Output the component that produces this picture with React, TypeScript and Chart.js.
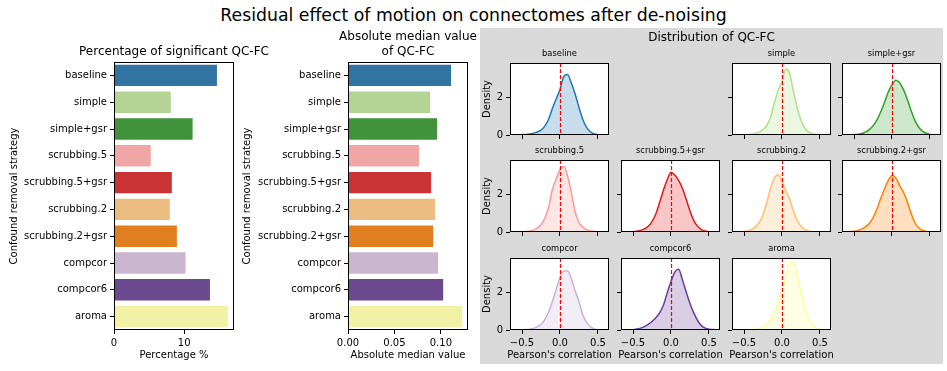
import React, { useEffect, useRef } from "react";
import { Chart, registerables } from "chart.js";

Chart.register(...registerables);
const FONT = "'DejaVu Sans', sans-serif";
Chart.defaults.font.family = FONT;
Chart.defaults.color = "#000";

// ---------------- data ----------------
const strategies = [
  "baseline",
  "simple",
  "simple+gsr",
  "scrubbing.5",
  "scrubbing.5+gsr",
  "scrubbing.2",
  "scrubbing.2+gsr",
  "compcor",
  "compcor6",
  "aroma",
];
const pctSignificant = [14.67, 8.1, 11.2, 5.24, 8.24, 7.95, 8.96, 10.2, 13.67, 16.24];
const absMedian = [0.111, 0.0884, 0.096, 0.0765, 0.0895, 0.0938, 0.0917, 0.097, 0.1025, 0.123];

const pctTicks = [0, 10];
const pctTickLabels = ["0", "10"];
const medianTicks = [0, 0.05, 0.1];
const medianTickLabels = ["0.00", "0.05", "0.10"];
const densityXTicks = [-0.5, 0, 0.5];
const densityXTickLabels = ["\u22120.5", "0.0", "0.5"];
const densityYTicks = [0, 2];
const densityYTickLabels = ["0", "2"];

const kdeX = [
  -0.6, -0.55, -0.5, -0.45, -0.4, -0.35, -0.3, -0.25, -0.2, -0.15, -0.1, -0.05, 0,
  0.05, 0.1, 0.15, 0.2, 0.25, 0.3, 0.35, 0.4, 0.45, 0.5, 0.55, 0.6,
];
const kdeBaseline = [null, null, 0.01, 0.02, 0.05, 0.1, 0.16, 0.26, 0.47, 0.83, 1.4, 1.9, 2.4, 3.08, 3.18, 2.72, 2.15, 1.45, 0.82, 0.4, 0.17, 0.06, 0.02, 0.01, null];
const kdeSimple = [null, null, 0.01, 0.02, 0.04, 0.08, 0.15, 0.28, 0.5, 0.95, 1.7, 2.35, 2.8, 3.48, 3.25, 2.3, 1.45, 0.78, 0.37, 0.16, 0.07, 0.03, 0.01, null, null];
const kdeSimpleGsr = [null, null, 0.02, 0.04, 0.08, 0.15, 0.28, 0.48, 0.78, 1.2, 1.7, 2.25, 2.65, 2.88, 2.75, 2.4, 1.9, 1.3, 0.78, 0.42, 0.2, 0.09, 0.04, null, null];
const kdeScrub5 = [null, null, 0.01, 0.02, 0.05, 0.1, 0.2, 0.38, 0.72, 1.3, 2.25, 2.8, 3.3, 3.45, 2.95, 2.05, 1.05, 0.5, 0.25, 0.12, 0.06, 0.03, 0.01, null, null];
const kdeScrub5Gsr = [null, null, 0.02, 0.04, 0.08, 0.16, 0.3, 0.55, 0.95, 1.55, 2.2, 2.75, 3.15, 3.0, 2.72, 2.3, 1.72, 1.1, 0.6, 0.3, 0.13, 0.05, 0.02, null, null];
const kdeScrub2 = [null, 0.01, 0.03, 0.06, 0.13, 0.27, 0.5, 0.9, 1.55, 2.3, 2.85, 3.03, 2.65, 2.15, 1.75, 1.1, 0.62, 0.3, 0.14, 0.06, 0.02, 0.01, null, null, null];
const kdeScrub2Gsr = [0.01, 0.02, 0.04, 0.08, 0.15, 0.27, 0.45, 0.75, 1.2, 1.75, 2.25, 2.7, 2.98, 2.85, 2.45, 2.1, 1.6, 1.0, 0.5, 0.22, 0.09, 0.03, 0.01, null, null];
const kdeCompcor = [null, null, 0.01, 0.02, 0.04, 0.08, 0.16, 0.3, 0.55, 0.95, 1.5, 2.15, 2.75, 3.1, 3.1, 2.7, 2.05, 1.5, 0.8, 0.4, 0.17, 0.06, 0.02, null, null];
const kdeCompcor6 = [null, null, 0.02, 0.05, 0.1, 0.18, 0.3, 0.45, 0.65, 0.9, 1.3, 1.95, 2.55, 3.05, 3.2, 2.65, 2.0, 1.4, 0.9, 0.5, 0.23, 0.1, 0.04, 0.02, 0.01];
const kdeAroma = [null, null, null, null, 0.02, 0.04, 0.08, 0.15, 0.28, 0.5, 0.9, 1.42, 2.0, 2.8, 3.6, 3.55, 2.85, 2.0, 1.2, 0.6, 0.25, 0.09, 0.03, 0.01, 0.005];

const kdeSeries = [
  kdeBaseline, kdeSimple, kdeSimpleGsr, kdeScrub5, kdeScrub5Gsr,
  kdeScrub2, kdeScrub2Gsr, kdeCompcor, kdeCompcor6, kdeAroma,
];

// ---------------- styles ----------------
const barColors = ["#3274a1", "#b3d495", "#40923b", "#efa6a5", "#ca3334", "#ebbd81", "#df7f20", "#c9b7d2", "#6a498e", "#f2f2a6"];
const lineColors = ["#1f78b4", "#b2df8a", "#33a02c", "#fb9a99", "#e31a1c", "#fdbf6f", "#ff7f00", "#cab2d6", "#6a3d9a", "#ffff99"];

function withAlpha(hex: string, a: number) {
  const r = parseInt(hex.slice(1, 3), 16);
  const g = parseInt(hex.slice(3, 5), 16);
  const b = parseInt(hex.slice(5, 7), 16);
  return `rgba(${r},${g},${b},${a})`;
}

// layout (page pixels)
const PAD = 4;
const BAR_AXES = [
  { x: 114, y: 62, w: 120, h: 268 },
  { x: 348, y: 62, w: 120, h: 268 },
];
const BAR_YW = 110;
const BAR_XH = 30;
const COL_X = [510, 621, 732, 842];
const COL_W = 99;
const ROW_Y = [63, 160, 258];
const ROW_H = 72;
const GRID_POS = [
  [0, 0], [0, 2], [0, 3],
  [1, 0], [1, 1], [1, 2], [1, 3],
  [2, 0], [2, 1], [2, 2],
];
const X_RANGE = [-0.658, 0.645];
const Y_MAX = 3.79;

const framePlugin = {
  id: "frame",
  beforeDraw(chart: any) {
    const { ctx, chartArea: a } = chart;
    ctx.save();
    ctx.fillStyle = "#fff";
    ctx.fillRect(a.left, a.top, a.right - a.left, a.bottom - a.top);
    ctx.restore();
  },
  afterDatasetsDraw(chart: any, _args: any, opts: any) {
    if (!opts || !opts.zeroLine) return;
    const { ctx, chartArea: a } = chart;
    const x = Math.round(chart.scales.x.getPixelForValue(0)) + 0.5;
    ctx.save();
    ctx.strokeStyle = "#ff0000";
    ctx.lineWidth = 1.2;
    ctx.setLineDash([4, 2]);
    ctx.beginPath();
    ctx.moveTo(x, a.top);
    ctx.lineTo(x, a.bottom);
    ctx.stroke();
    ctx.restore();
  },
  afterDraw(chart: any) {
    const { ctx, chartArea: a } = chart;
    ctx.save();
    ctx.strokeStyle = "#000";
    ctx.lineWidth = 1;
    ctx.strokeRect(a.left + 0.5, a.top + 0.5, a.right - a.left - 1, a.bottom - a.top - 1);
    ctx.restore();
  },
};

const tickGrid = {
  display: true,
  drawOnChartArea: false,
  drawTicks: true,
  tickLength: 4,
  tickWidth: 1,
  tickColor: "#000",
  color: "#000",
};

function fixWidth(w: number) {
  return (s: any) => {
    s.width = w;
    s.paddingTop = 0;
    s.paddingBottom = 0;
    s.paddingLeft = 0;
    s.paddingRight = 0;
  };
}
function fixHeight(h: number) {
  return (s: any) => {
    s.height = h;
    s.paddingTop = 0;
    s.paddingBottom = 0;
    s.paddingLeft = 0;
    s.paddingRight = 0;
  };
}

function barConfig(values: number[], xMax: number, ticks: number[], tickLabels: string[]) {
  return {
    type: "bar",
    data: {
      labels: strategies,
      datasets: [
        {
          data: values,
          backgroundColor: barColors,
          borderWidth: 0,
          categoryPercentage: 0.8,
          barPercentage: 1,
        },
      ],
    },
    options: {
      animation: false,
      responsive: false,
      devicePixelRatio: 1,
      indexAxis: "y",
      events: [],
      layout: { padding: { top: PAD, right: PAD, left: 0, bottom: 0 } },
      plugins: { legend: { display: false }, tooltip: { enabled: false }, frame: {} },
      scales: {
        x: {
          type: "linear",
          min: 0,
          max: xMax,
          afterBuildTicks: (s: any) => {
            s.ticks = ticks.map((v) => ({ value: v }));
          },
          ticks: {
            callback: (_v: any, i: number) => tickLabels[i],
            font: { size: 10 },
            color: "#000",
            padding: 3,
            maxRotation: 0,
            autoSkip: false,
          },
          grid: tickGrid,
          border: { display: false },
          afterFit: fixHeight(BAR_XH),
        },
        y: {
          type: "category",
          ticks: { font: { size: 10 }, color: "#000", padding: 3, autoSkip: false },
          grid: { ...tickGrid, offset: false },
          border: { display: false },
          afterFit: fixWidth(BAR_YW),
        },
      },
    },
    plugins: [framePlugin],
  };
}

function densityConfig(k: number, showX: boolean, showY: boolean, yW: number, xH: number) {
  const series = kdeSeries[k];
  const points = kdeX
    .map((x, i) => ({ x, y: series[i] }))
    .filter((p) => p.y !== null);
  return {
    type: "line",
    data: {
      datasets: [
        {
          data: points,
          borderColor: lineColors[k],
          backgroundColor: withAlpha(lineColors[k], 0.25),
          borderWidth: 1.5,
          pointRadius: 0,
          fill: "origin",
          cubicInterpolationMode: "monotone",
        },
      ],
    },
    options: {
      animation: false,
      responsive: false,
      devicePixelRatio: 1,
      events: [],
      layout: { padding: { top: PAD, right: PAD, left: 0, bottom: 0 } },
      plugins: { legend: { display: false }, tooltip: { enabled: false }, frame: { zeroLine: true } },
      scales: {
        x: {
          type: "linear",
          min: X_RANGE[0],
          max: X_RANGE[1],
          afterBuildTicks: (s: any) => {
            s.ticks = densityXTicks.map((v) => ({ value: v }));
          },
          ticks: {
            callback: (_v: any, i: number) => (showX ? densityXTickLabels[i] : ""),
            font: { size: 10 },
            color: "#000",
            padding: 3,
            maxRotation: 0,
            autoSkip: false,
          },
          grid: tickGrid,
          border: { display: false },
          afterFit: fixHeight(xH),
        },
        y: {
          type: "linear",
          min: 0,
          max: Y_MAX,
          afterBuildTicks: (s: any) => {
            s.ticks = densityYTicks.map((v) => ({ value: v }));
          },
          ticks: {
            callback: (_v: any, i: number) => (showY ? densityYTickLabels[i] : ""),
            font: { size: 10 },
            color: "#000",
            padding: 3,
            autoSkip: false,
          },
          grid: tickGrid,
          border: { display: false },
          afterFit: fixWidth(yW),
        },
      },
    },
    plugins: [framePlugin],
  };
}

type Box = { x: number; y: number; w: number; h: number };

function ChartCanvas({ box, make }: { box: Box; make: () => any }) {
  const ref = useRef<HTMLCanvasElement>(null);
  useEffect(() => {
    const chart = new Chart(ref.current as HTMLCanvasElement, make());
    return () => chart.destroy();
  }, []);
  return (
    <canvas
      ref={ref}
      width={box.w}
      height={box.h}
      style={{ position: "absolute", left: box.x, top: box.y, width: box.w, height: box.h }}
    />
  );
}

// horizontal label: x = centre, y = baseline
function Label({ text, x, y, size }: { text: string; x: number; y: number; size: number }) {
  const lh = size * 1.164;
  const style: React.CSSProperties = {
    position: "absolute",
    fontSize: size,
    lineHeight: `${lh}px`,
    whiteSpace: "nowrap",
    fontFamily: FONT,
    color: "#000",
    left: x,
    top: y - 0.928 * size,
    transform: "translateX(-50%)",
  };
  return <div style={style}>{text}</div>;
}

// vertical label (reads bottom to top): baseline at x, centred on y (integers)
function VLabel({ text, x, y }: { text: string; x: number; y: number }) {
  const outer: React.CSSProperties = {
    position: "absolute",
    left: x - 9,
    top: y - 100,
    width: 12,
    height: 200,
  };
  const inner: React.CSSProperties = {
    position: "absolute",
    left: -94,
    top: 94,
    width: 200,
    height: 12,
    lineHeight: "11px",
    fontSize: 10,
    fontFamily: FONT,
    color: "#000",
    textAlign: "center",
    whiteSpace: "nowrap",
    transform: "rotate(-90deg)",
  };
  return (
    <div style={outer}>
      <div style={inner}>{text}</div>
    </div>
  );
}

export default function App() {
  const barCharts = [
    { ax: BAR_AXES[0], make: () => barConfig(pctSignificant, 17.1, pctTicks, pctTickLabels) },
    { ax: BAR_AXES[1], make: () => barConfig(absMedian, 0.1292, medianTicks, medianTickLabels) },
  ];

  const densityCharts = GRID_POS.map(([r, c], k) => {
    const showY = c === 0;
    const showX = r === 2;
    const yW = showY ? 20 : 8;
    const xH = 20;
    const ax = { x: COL_X[c], y: ROW_Y[r], w: COL_W, h: ROW_H };
    const box = { x: ax.x - yW, y: ax.y - PAD, w: yW + ax.w + PAD, h: PAD + ax.h + xH };
    return { k, r, c, ax, box, make: () => densityConfig(k, showX, showY, yW, xH) };
  });

  return (
    <div
      style={{
        position: "absolute",
        left: 0,
        top: 0,
        width: 947,
        height: 371,
        background: "#fff",
        overflow: "hidden",
        fontFamily: FONT,
      }}
    >
      <div style={{ position: "absolute", left: 480, top: 28, width: 463, height: 336, background: "#d9d9d9" }} />

      {barCharts.map((b, i) => (
        <ChartCanvas
          key={"bar" + i}
          box={{ x: b.ax.x - BAR_YW, y: b.ax.y - PAD, w: BAR_YW + b.ax.w + PAD, h: PAD + b.ax.h + BAR_XH }}
          make={b.make}
        />
      ))}
      {densityCharts.map((d) => (
        <ChartCanvas key={"kde" + d.k} box={d.box} make={d.make} />
      ))}

      <Label text="Residual effect of motion on connectomes after de-noising" x={473.5} y={21} size={17.3} />

      <Label text="Percentage of significant QC-FC" x={174} y={56} size={12} />
      <Label text="Absolute median value" x={408} y={41.6} size={12} />
      <Label text="of QC-FC" x={408} y={56} size={12} />
      <Label text="Percentage %" x={174} y={358.5} size={10} />
      <Label text="Absolute median value" x={408} y={358.5} size={10} />
      <VLabel text="Confound removal strategy" x={17} y={196} />
      <VLabel text="Confound removal strategy" x={250} y={196} />

      <Label text="Distribution of QC-FC" x={711.5} y={42} size={12} />
      {densityCharts.map((d) => (
        <Label key={"t" + d.k} text={strategies[d.k]} x={d.ax.x + d.ax.w / 2} y={d.ax.y - 6.5} size={8.33} />
      ))}
      {ROW_Y.map((ry, r) => (
        <VLabel key={"dl" + r} text="Density" x={490} y={ry + ROW_H / 2} />
      ))}
      {[0, 1, 2].map((c) => (
        <Label key={"pl" + c} text="Pearson's correlation" x={COL_X[c] + COL_W / 2} y={358.5} size={10} />
      ))}
    </div>
  );
}
